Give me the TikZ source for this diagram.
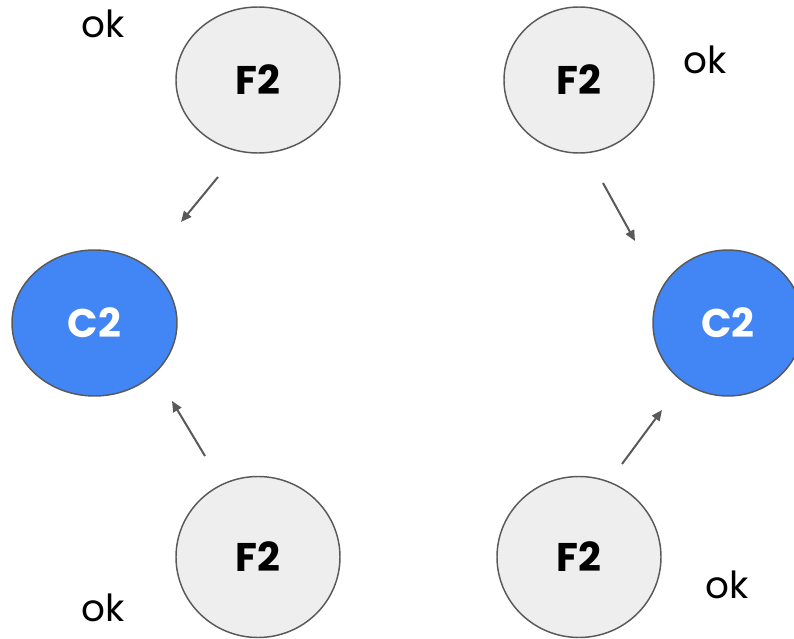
\documentclass[tikz,border=0pt]{standalone}
\usepackage{fontspec}
\setmainfont{Poppins}
\usetikzlibrary{arrows.meta,shapes.geometric}
\definecolor{edgegray}{HTML}{595959}
\definecolor{lightfill}{HTML}{EEEEEE}
\definecolor{gblue}{HTML}{4285F4}
\tikzset{
  fnode/.style={shape=ellipse, inner sep=0pt, draw=edgegray, line width=1.1pt, fill=lightfill},
  cnode/.style={shape=ellipse, inner sep=0pt, draw=edgegray, line width=1.1pt, fill=gblue},
  flabel/.style={font=\fontsize{30}{34}\selectfont\bfseries, text=black},
  clabel/.style={font=\fontsize{30}{34}\selectfont\bfseries, text=white},
  oklabel/.style={font=\fontsize{28}{32}\selectfont, text=black},
  conn/.style={draw=edgegray, line width=1.5pt, -{Triangle[length=8pt,width=7pt]}}
}
\begin{document}
\begin{tikzpicture}[x=0.75pt,y=-0.75pt]
\useasboundingbox (0,0) rectangle (794,639);
\clip (0,0) rectangle (794,639);
% nodes
\node[fnode, minimum width=164*0.75pt, minimum height=146*0.75pt] (ftl) at (258,80) {};
\node[flabel] at (ftl.center) {F2};
\node[fnode, minimum width=150*0.75pt, minimum height=146*0.75pt] (ftr) at (579,80) {};
\node[flabel] at (ftr.center) {F2};
\node[cnode, minimum width=165*0.75pt, minimum height=146*0.75pt] (cl) at (94.5,323) {};
\node[clabel] at (cl.center) {C2};
\node[cnode, minimum width=150*0.75pt, minimum height=146*0.75pt] (cr) at (728,323) {};
\node[clabel] at (cr.center) {C2};
\node[fnode, minimum width=164*0.75pt, minimum height=161*0.75pt] (fbl) at (258,557) {};
\node[flabel] at (fbl.center) {F2};
\node[fnode, minimum width=164*0.75pt, minimum height=161*0.75pt] (fbr) at (579,557) {};
\node[flabel] at (fbr.center) {F2};
% ok labels
\node[oklabel] (ok1) at (103,24) {ok};
\node[oklabel] (ok2) at (705,60) {ok};
\node[oklabel] (ok3) at (103,608) {ok};
\node[oklabel] (ok4) at (727,585) {ok};
% connector end points
\coordinate (a1s) at (218,177);
\coordinate (a1e) at (181,222);
\coordinate (a2s) at (603,183);
\coordinate (a2e) at (635,241);
\coordinate (a3s) at (205,456);
\coordinate (a3e) at (172,401);
\coordinate (a4s) at (622,464);
\coordinate (a4e) at (662,410);
\draw[conn] (a1s) -- (a1e);
\draw[conn] (a2s) -- (a2e);
\draw[conn] (a3s) -- (a3e);
\draw[conn] (a4s) -- (a4e);
\end{tikzpicture}
\end{document}
